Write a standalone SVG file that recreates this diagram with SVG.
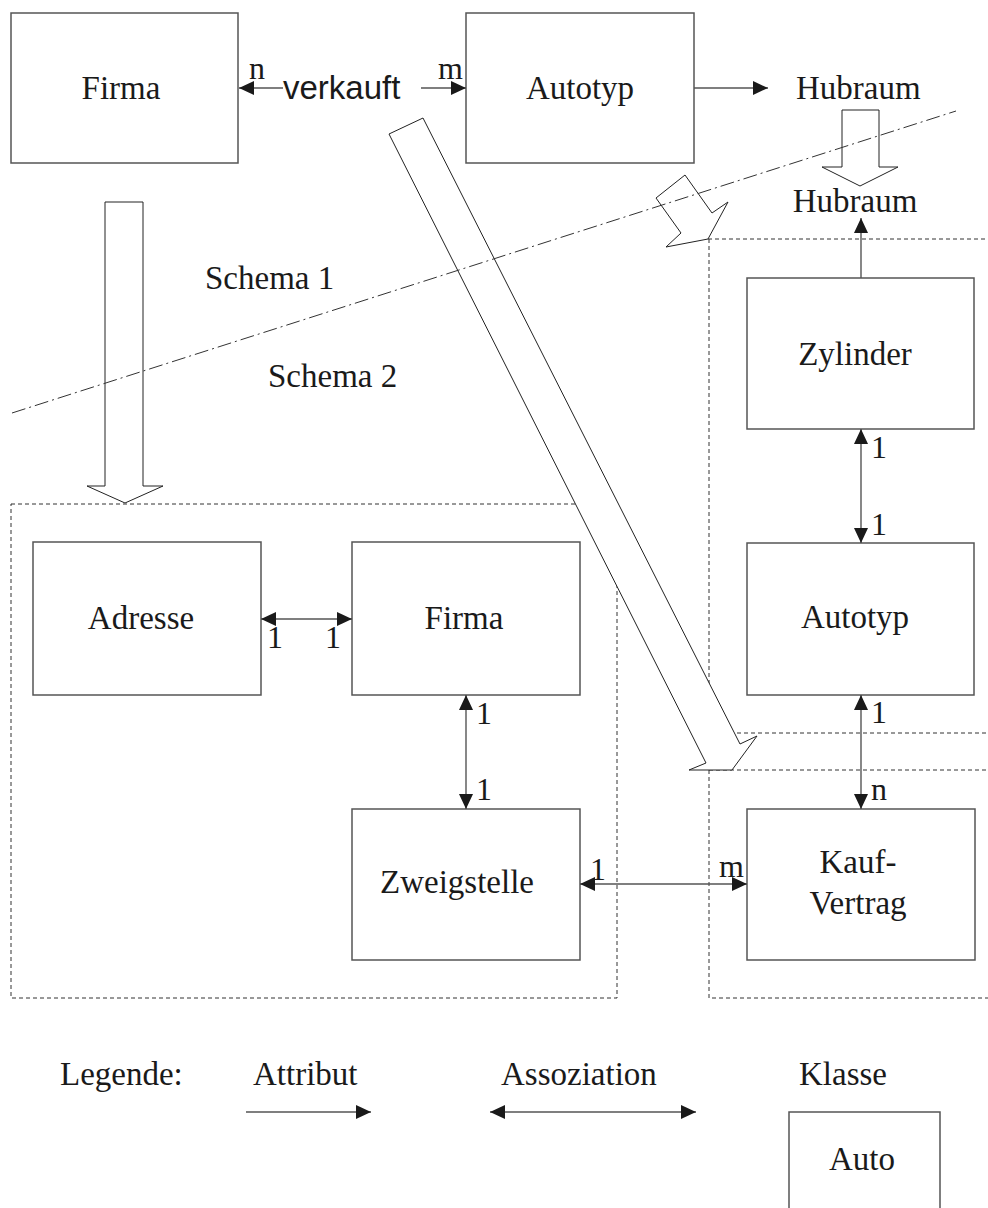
<svg xmlns="http://www.w3.org/2000/svg" width="988" height="1208" viewBox="0 0 988 1208">
  <defs>
    <style>
      .box { fill: #ffffff; stroke: #555555; stroke-width: 1.5; }
      .lbl { font-family: "Liberation Serif", "Times New Roman", serif; font-size: 33px; fill: #1a1a1a; }
      .mid { text-anchor: middle; }
      .card { font-family: "Liberation Serif", "Times New Roman", serif; font-size: 32px; fill: #1a1a1a; }
      .sans { font-family: "Liberation Sans", Arial, sans-serif; font-size: 33px; fill: #1a1a1a; }
      .conn { stroke: #555555; stroke-width: 1.4; fill: none; }
      .zone { stroke: #333333; stroke-width: 1; fill: none; stroke-dasharray: 4 3; }
      .split { stroke: #333333; stroke-width: 1; fill: none; stroke-dasharray: 14 4 2 4; }
      .block { fill: #ffffff; stroke: #222222; stroke-width: 1; stroke-linejoin: miter; }
    </style>
    <marker id="head" viewBox="0 0 15 14" refX="15" refY="7" markerWidth="15" markerHeight="14" markerUnits="userSpaceOnUse" orient="auto-start-reverse">
      <path d="M0,0 L15,7 L0,14 z" fill="#1a1a1a"/>
    </marker>
  </defs>

  <!-- schema zones (dotted frames) -->
  <g id="zones">
    <rect class="zone" x="11" y="504" width="606" height="494"/>
    <path class="zone" d="M708,239 H990 M709,239 V733 M709,733 H990"/>
    <path class="zone" d="M709,770 H990 M709,770 V998 H990"/>
  </g>

  <!-- mapping arrows between schemas -->
  <g id="mappings">
    <polygon id="map-firma" class="block" points="105,202 143,202 143,486 163,486 125,503 87,486 105,486"/>
    <polygon id="map-verkauft" class="block" points="389,134 423,118 740,744 757,736 732,770 689,770 706,763"/>
    <polygon id="map-autotyp" class="block" points="656,198 685,175 712,213 728,202 708,239 666,247 681,233"/>
    <polygon id="map-hubraum" class="block" points="842,110 879,110 879,167 898,167 860,186 822,167 842,167"/>
  </g>

  <!-- boundary between schema 1 and schema 2 -->
  <g id="boundary">
    <line class="split" x1="12" y1="413" x2="956" y2="111"/>
    <text class="lbl" x="205" y="289">Schema 1</text>
    <text class="lbl" x="268" y="387">Schema 2</text>
  </g>

  <!-- schema 1 -->
  <g id="s1-firma">
    <rect class="box" x="11" y="13" width="227" height="150"/>
    <text class="lbl mid" x="121" y="99">Firma</text>
  </g>
  <g id="s1-verkauft">
    <text class="sans" x="283" y="99">verkauft</text>
  </g>
  <g id="s1-autotyp">
    <rect class="box" x="466" y="13" width="228" height="150"/>
    <text class="lbl mid" x="580" y="99">Autotyp</text>
  </g>
  <g id="s1-hubraum">
    <text class="lbl" x="796" y="99">Hubraum</text>
  </g>

  <!-- schema 2 -->
  <g id="s2-hubraum">
    <text class="lbl mid" x="855" y="212">Hubraum</text>
  </g>
  <g id="s2-zylinder">
    <rect class="box" x="747" y="278" width="227" height="151"/>
    <text class="lbl mid" x="855" y="365">Zylinder</text>
  </g>
  <g id="s2-autotyp">
    <rect class="box" x="747" y="543" width="227" height="152"/>
    <text class="lbl mid" x="855" y="628">Autotyp</text>
  </g>
  <g id="s2-adresse">
    <rect class="box" x="33" y="542" width="228" height="153"/>
    <text class="lbl mid" x="141" y="629">Adresse</text>
  </g>
  <g id="s2-firma">
    <rect class="box" x="352" y="542" width="228" height="153"/>
    <text class="lbl mid" x="464" y="629">Firma</text>
  </g>
  <g id="s2-zweigstelle">
    <rect class="box" x="352" y="809" width="228" height="151"/>
    <text class="lbl" x="380" y="893">Zweigstelle</text>
  </g>
  <g id="s2-kaufvertrag">
    <rect class="box" x="747" y="809" width="228" height="151"/>
    <text class="lbl mid" x="858" y="873">Kauf-</text>
    <text class="lbl mid" x="858" y="914">Vertrag</text>
  </g>

  <!-- connectors -->
  <g id="connectors">
    <line class="conn" x1="283" y1="88" x2="239" y2="88" marker-end="url(#head)"/>
    <line class="conn" x1="421" y1="88" x2="466" y2="88" marker-end="url(#head)"/>
    <line class="conn" x1="694" y1="88" x2="768" y2="88" marker-end="url(#head)"/>
    <line class="conn" x1="861" y1="278" x2="861" y2="218" marker-end="url(#head)"/>
    <line class="conn" x1="861" y1="429" x2="861" y2="543" marker-start="url(#head)" marker-end="url(#head)"/>
    <line class="conn" x1="861" y1="695" x2="861" y2="809" marker-start="url(#head)" marker-end="url(#head)"/>
    <line class="conn" x1="261" y1="619" x2="352" y2="619" marker-start="url(#head)" marker-end="url(#head)"/>
    <line class="conn" x1="466" y1="695" x2="466" y2="809" marker-start="url(#head)" marker-end="url(#head)"/>
    <line class="conn" x1="580" y1="884" x2="747" y2="884" marker-start="url(#head)" marker-end="url(#head)"/>

    <!-- multiplicities -->
    <text class="card" x="249" y="79">n</text>
    <text class="card" x="438" y="79">m</text>
    <text class="card" x="267" y="648">1</text>
    <text class="card" x="325" y="648">1</text>
    <text class="card" x="476" y="724">1</text>
    <text class="card" x="476" y="800">1</text>
    <text class="card" x="871" y="458">1</text>
    <text class="card" x="871" y="535">1</text>
    <text class="card" x="871" y="723">1</text>
    <text class="card" x="871" y="800">n</text>
    <text class="card" x="590" y="880">1</text>
    <text class="card" x="719" y="877">m</text>
  </g>

  <!-- legend -->
  <g id="legend">
    <text class="lbl" x="60" y="1085">Legende:</text>
    <text class="lbl" x="253" y="1085">Attribut</text>
    <text class="lbl" x="501" y="1085">Assoziation</text>
    <text class="lbl" x="799" y="1085">Klasse</text>
    <line class="conn" x1="246" y1="1112" x2="371" y2="1112" marker-end="url(#head)"/>
    <line class="conn" x1="490" y1="1112" x2="696" y2="1112" marker-start="url(#head)" marker-end="url(#head)"/>
    <g id="legend-klasse">
      <rect class="box" x="789" y="1112" width="151" height="110"/>
      <text class="lbl mid" x="862" y="1170">Auto</text>
    </g>
  </g>
</svg>
